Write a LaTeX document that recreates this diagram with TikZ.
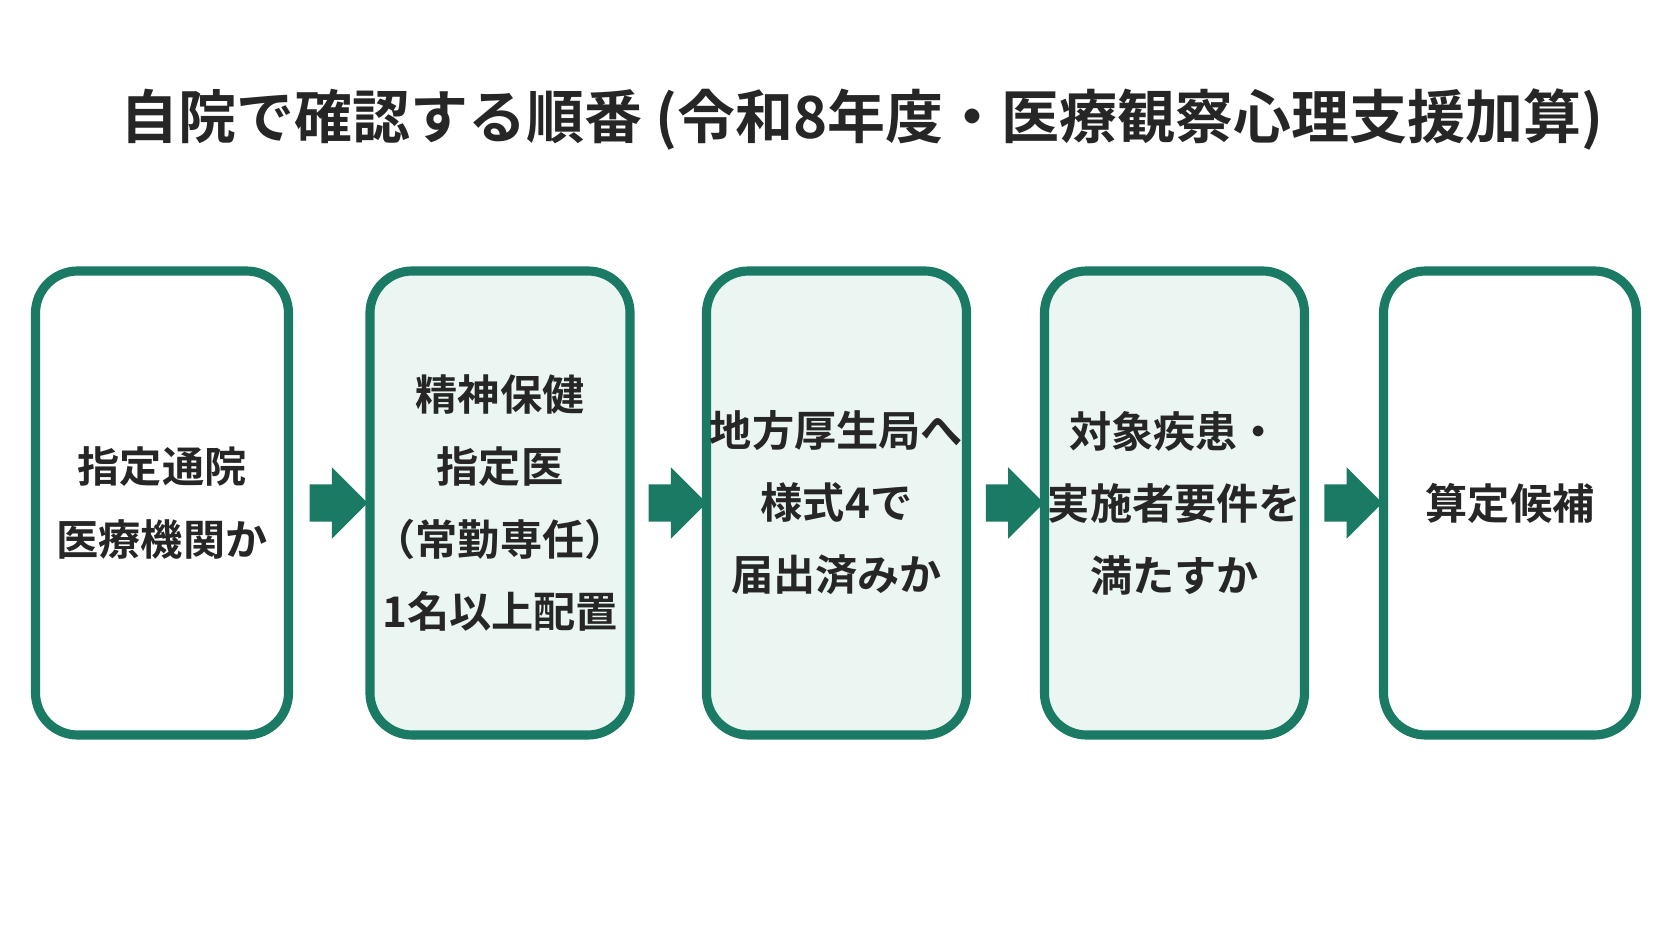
\documentclass[tikz,border=0pt]{standalone}
\usepackage{fontspec}
\setmainfont{Noto Sans CJK JP}[UprightFont=* Bold]
\usetikzlibrary{shapes.arrows,calc}
\definecolor{deep_green}{HTML}{1B7A64}
\definecolor{pale_green}{HTML}{EBF6F3}
\tikzset{
  stage/.style={draw=deep_green, line width=2.6pt, rounded corners=12pt,
    minimum width=2.53cm, minimum height=4.64cm, align=center, inner sep=1pt,
    font=\fontsize{12pt}{20.5pt}\selectfont, text=black!85},
  shaded/.style={stage, fill=pale_green},
  blk/.style={single arrow, fill=deep_green, draw=none, inner xsep=0pt, inner ysep=0.18cm,
    single arrow head extend=0.17cm, minimum height=0.58cm}
}
\begin{document}
\begin{tikzpicture}
    \useasboundingbox (0,0) rectangle (16.72,9.41);
    % Title
    \node[font=\fontsize{16.5pt}{20pt}\selectfont, text=black!85] (title) at (8.62,8.22) {自院で確認する順番 (令和8年度・医療観察心理支援加算)};
    % Steps
    \node[stage]  (s1) at (1.62,4.38)  {指定通院\\医療機関か};
    \node[shaded] (s2) at (5.00,4.38)  {精神保健\\指定医\\（常勤専任）\\1名以上配置};
    \node[shaded] (s3) at (8.365,4.38) {地方厚生局へ\\様式4で\\届出済みか};
    \node[shaded] (s4) at (11.745,4.38) {対象疾患・\\実施者要件を\\満たすか};
    \node[stage]  (s5) at (15.10,4.38) {算定候補};
    % Arrows
    \foreach \a/\b in {s1/s2, s2/s3, s3/s4, s4/s5}
        \node[blk] (\a\b) at ($(\a.east)!0.5!(\b.west)$) {};
\end{tikzpicture}
\end{document}
